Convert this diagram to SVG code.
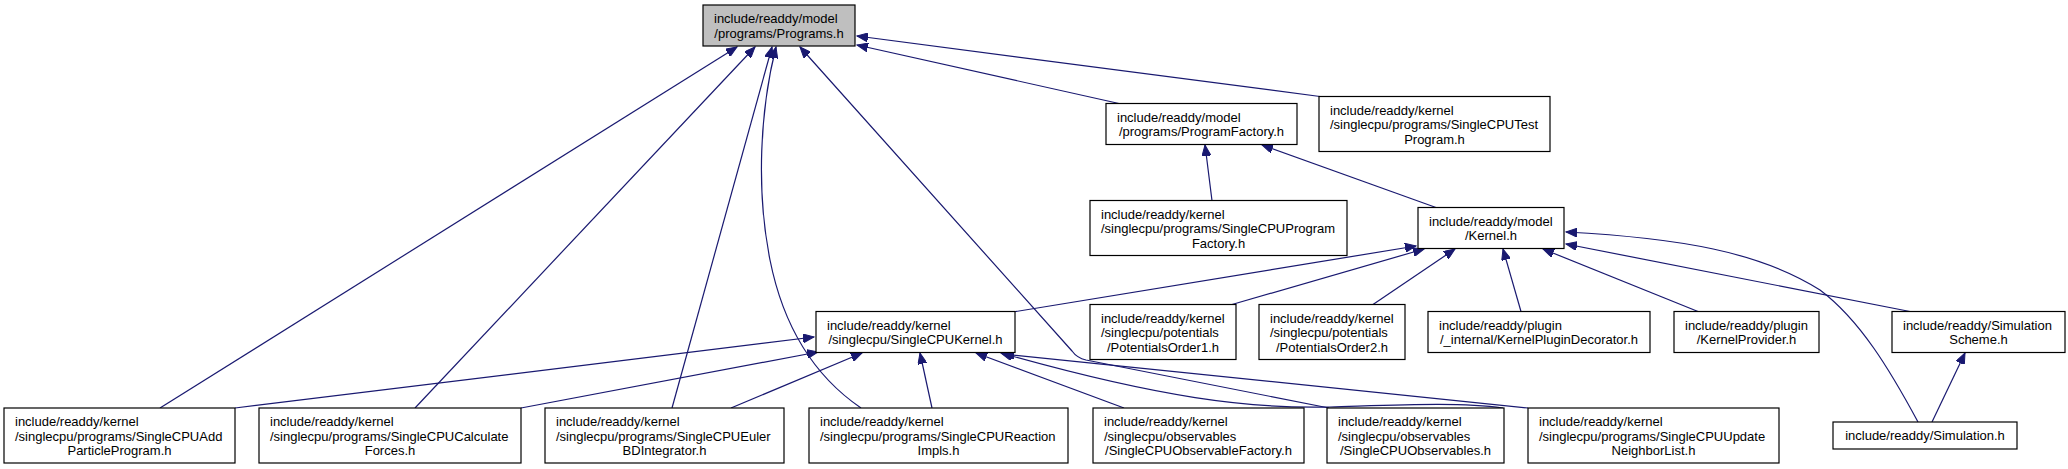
<svg xmlns="http://www.w3.org/2000/svg" width="2068" height="469" viewBox="0 0 2068 469">
<style>
.node rect{fill:#fff;stroke:#000;stroke-width:1.2}
.node rect.hl{fill:#bfbfbf}
text{font-family:"Liberation Sans",Arial,Helvetica,sans-serif;font-size:13px;fill:#000}
.c{text-anchor:middle}
.edge{fill:none;stroke:#191970;stroke-width:1.2;marker-end:url(#ah)}
</style>
<defs>
<marker id="ah" markerUnits="userSpaceOnUse" markerWidth="12" markerHeight="9" refX="11" refY="4.5" orient="auto">
<path d="M0,0 L11,4.5 L0,9 z" fill="#191970" stroke="#191970" stroke-width="1"/>
</marker>
</defs>
<rect width="2068" height="469" fill="#fff"/>
<g id="edges">
<path class="edge" d="M1119,103.5 L857,45"/>
<path class="edge" d="M1320,96.5 L857,36"/>
<path class="edge" d="M160,408 L737,47"/>
<path class="edge" d="M415,408 L755,47"/>
<path class="edge" d="M672,408 L772,47"/>
<path class="edge" d="M861,408 C820,380 785,335 770,260 C756,190 760,110 776,47"/>
<path class="edge" d="M1329,408 L1086,360 Q1077,358 1072,351 L800,47"/>
<path class="edge" d="M1212,200.5 L1205,145"/>
<path class="edge" d="M1436,207.5 L1262,145"/>
<path class="edge" d="M1013,312 L1416,246"/>
<path class="edge" d="M1232,304.5 L1424,249"/>
<path class="edge" d="M1373,304.5 L1455,249"/>
<path class="edge" d="M1521,311.5 L1503,249"/>
<path class="edge" d="M1698,311.5 L1543,249"/>
<path class="edge" d="M1910,311.5 L1566,244"/>
<path class="edge" d="M1918,422 C1890,370 1860,320 1820,290 C1760,252 1680,238 1566,232"/>
<path class="edge" d="M1932,422 L1965,353"/>
<path class="edge" d="M235,408 L814,337"/>
<path class="edge" d="M521,408 L818,352"/>
<path class="edge" d="M731,408 L862,353"/>
<path class="edge" d="M932,408 L920,353"/>
<path class="edge" d="M1124,408 L976,353"/>
<path class="edge" d="M1503,408 C1460,402 1400,405 1330,407 C1250,409 1160,398 1001,353"/>
<path class="edge" d="M1528,408 L1003,354"/>
</g>
<g id="n_programs" class="node"><rect class="hl" x="703" y="5" width="152" height="41"/><text x="714" y="23">include/readdy/model</text><text class="c" x="779" y="37.5">/programs/Programs.h</text></g>
<g id="n_programfactory" class="node"><rect x="1106" y="103.5" width="191" height="41"/><text x="1117" y="121.5">include/readdy/model</text><text class="c" x="1201.5" y="136">/programs/ProgramFactory.h</text></g>
<g id="n_testprogram" class="node"><rect x="1319" y="96.5" width="231" height="55"/><text x="1330" y="114.5">include/readdy/kernel</text><text x="1330" y="129">/singlecpu/programs/SingleCPUTest</text><text class="c" x="1434.5" y="143.5">Program.h</text></g>
<g id="n_scpuprogramfactory" class="node"><rect x="1090" y="200.5" width="257" height="55"/><text x="1101" y="218.5">include/readdy/kernel</text><text x="1101" y="233">/singlecpu/programs/SingleCPUProgram</text><text class="c" x="1218.5" y="247.5">Factory.h</text></g>
<g id="n_kernel" class="node"><rect x="1418" y="207.5" width="146" height="41"/><text x="1429" y="225.5">include/readdy/model</text><text class="c" x="1491" y="240">/Kernel.h</text></g>
<g id="n_scpukernel" class="node"><rect x="816" y="311.5" width="199" height="41"/><text x="827" y="329.5">include/readdy/kernel</text><text class="c" x="915.5" y="344">/singlecpu/SingleCPUKernel.h</text></g>
<g id="n_pot1" class="node"><rect x="1090" y="304.5" width="146" height="55"/><text x="1101" y="322.5">include/readdy/kernel</text><text x="1101" y="337">/singlecpu/potentials</text><text class="c" x="1163" y="351.5">/PotentialsOrder1.h</text></g>
<g id="n_pot2" class="node"><rect x="1259" y="304.5" width="146" height="55"/><text x="1270" y="322.5">include/readdy/kernel</text><text x="1270" y="337">/singlecpu/potentials</text><text class="c" x="1332" y="351.5">/PotentialsOrder2.h</text></g>
<g id="n_kpd" class="node"><rect x="1428" y="311.5" width="222" height="41"/><text x="1439" y="329.5">include/readdy/plugin</text><text class="c" x="1539" y="344">/_internal/KernelPluginDecorator.h</text></g>
<g id="n_kp" class="node"><rect x="1674" y="311.5" width="145" height="41"/><text x="1685" y="329.5">include/readdy/plugin</text><text class="c" x="1746.5" y="344">/KernelProvider.h</text></g>
<g id="n_scheme" class="node"><rect x="1892" y="311.5" width="173" height="41"/><text x="1903" y="329.5">include/readdy/Simulation</text><text class="c" x="1978.5" y="344">Scheme.h</text></g>
<g id="n_add" class="node"><rect x="4" y="408" width="231" height="55"/><text x="15" y="426">include/readdy/kernel</text><text x="15" y="440.5">/singlecpu/programs/SingleCPUAdd</text><text class="c" x="119.5" y="455">ParticleProgram.h</text></g>
<g id="n_calcforces" class="node"><rect x="259" y="408" width="262" height="55"/><text x="270" y="426">include/readdy/kernel</text><text x="270" y="440.5">/singlecpu/programs/SingleCPUCalculate</text><text class="c" x="390" y="455">Forces.h</text></g>
<g id="n_eulerbd" class="node"><rect x="545" y="408" width="239" height="55"/><text x="556" y="426">include/readdy/kernel</text><text x="556" y="440.5">/singlecpu/programs/SingleCPUEuler</text><text class="c" x="664.5" y="455">BDIntegrator.h</text></g>
<g id="n_reactionimpls" class="node"><rect x="809" y="408" width="259" height="55"/><text x="820" y="426">include/readdy/kernel</text><text x="820" y="440.5">/singlecpu/programs/SingleCPUReaction</text><text class="c" x="938.5" y="455">Impls.h</text></g>
<g id="n_obsfactory" class="node"><rect x="1093" y="408" width="211" height="55"/><text x="1104" y="426">include/readdy/kernel</text><text x="1104" y="440.5">/singlecpu/observables</text><text class="c" x="1198.5" y="455">/SingleCPUObservableFactory.h</text></g>
<g id="n_observables" class="node"><rect x="1327" y="408" width="177" height="55"/><text x="1338" y="426">include/readdy/kernel</text><text x="1338" y="440.5">/singlecpu/observables</text><text class="c" x="1415.5" y="455">/SingleCPUObservables.h</text></g>
<g id="n_updatenl" class="node"><rect x="1528" y="408" width="251" height="55"/><text x="1539" y="426">include/readdy/kernel</text><text x="1539" y="440.5">/singlecpu/programs/SingleCPUUpdate</text><text class="c" x="1653.5" y="455">NeighborList.h</text></g>
<g id="n_simulation" class="node"><rect x="1833" y="422" width="184" height="27"/><text class="c" x="1925" y="439.5">include/readdy/Simulation.h</text></g>
</svg>
